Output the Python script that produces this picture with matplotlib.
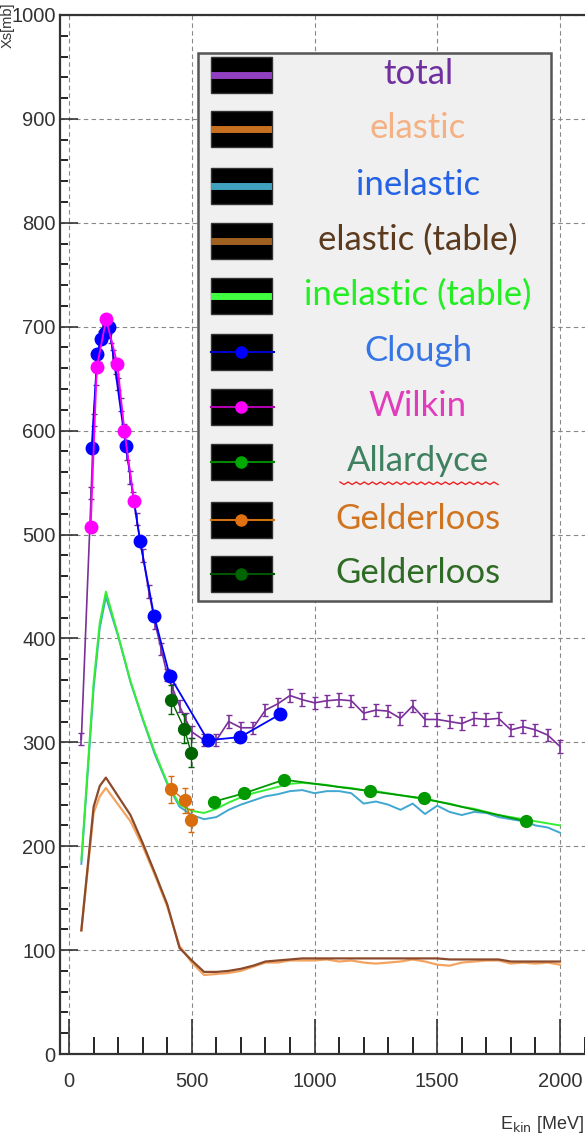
import numpy as np
import matplotlib.pyplot as plt
from matplotlib.patches import Rectangle
from matplotlib.ticker import MultipleLocator

# Data (E in MeV, cross sections in mb)
e_total = [50, 90, 100, 110, 120, 130, 140, 150, 160, 170, 180, 190, 200, 212, 225, 237,
           250, 262, 275, 300, 325, 350, 375, 400, 425, 450, 475, 500, 550, 600, 650, 700,
           750, 800, 850, 900, 950, 1000, 1050, 1100, 1150, 1200, 1250, 1300, 1350, 1400,
           1450, 1500, 1550, 1600, 1650, 1700, 1750, 1800, 1850, 1900, 1950, 2000]
xs_total = [303, 540, 610, 650, 672, 690, 700, 705, 700, 690, 672, 660, 645, 625, 600, 578,
            555, 535, 515, 480, 445, 415, 390, 365, 350, 335, 322, 310, 302, 302, 320, 314,
            314, 331, 337, 345, 341, 338, 340, 341, 340, 328, 331, 330, 323, 335,
            322, 322, 320, 318, 323, 322, 323, 312, 315, 312, 307, 296]

e_grid = [50, 100, 125, 150, 200, 250, 300, 350, 400, 450, 500, 550, 600, 650, 700, 750,
          800, 850, 900, 950, 1000, 1050, 1100, 1150, 1200, 1250, 1300, 1350, 1400, 1450,
          1500, 1550, 1600, 1650, 1700, 1750, 1800, 1850, 1900, 1950, 2000]
xs_inel = [183, 352, 410, 440, 402, 358, 322, 288, 260, 238, 230, 226, 228, 235, 240, 244,
           248, 250, 253, 254, 251, 253, 253, 251, 241, 243, 240, 235, 241, 231,
           239, 233, 230, 233, 232, 228, 226, 224, 220, 218, 213]
xs_inel_tab = [187, 358, 415, 445, 403, 359, 323, 290, 261, 240, 234, 232, 236, 242, 247, 251,
               254, 257, 260, 261, 260, 259, 257, 256, 254, 253, 251, 249, 247, 245,
               243, 241, 238, 236, 233, 230, 228, 226, 224, 222, 220]
xs_el = [119, 232, 248, 256, 240, 224, 200, 172, 142, 104, 88, 76, 77, 78, 80, 84,
         88, 88, 90, 90, 90, 91, 89, 90, 88, 87, 88, 89, 91, 89,
         86, 85, 88, 89, 90, 90, 87, 88, 87, 88, 86]
xs_el_tab = [119, 238, 258, 266, 248, 230, 203, 174, 144, 102, 90, 79, 79, 80, 82, 85,
             89, 90, 91, 92, 92, 92, 92, 92, 92, 92, 92, 92, 92, 92,
             92, 91, 91, 91, 91, 91, 89, 89, 89, 89, 89]

e_clough = [92, 115, 129, 147, 164, 231, 289, 346, 410, 565, 697, 860]
xs_clough = [583, 674, 688, 694, 700, 585, 494, 422, 364, 302, 305, 327]

e_wilkin = [88, 113, 151, 197, 225, 265]
xs_wilkin = [507, 661, 707, 664, 600, 532]

e_allardyce = [592, 714, 876, 1226, 1446, 1862]
xs_allardyce = [243, 251, 264, 253, 246, 224]

e_geld_or = [415, 472, 497]
xs_geld_or = [255, 244, 225]
err_geld_or = [13, 12, 11]

e_geld_gr = [415, 470, 497]
xs_geld_gr = [341, 313, 290]
err_geld_gr = [14, 14, 14]

legend_labels = ['total', 'elastic', 'inelastic', 'elastic (table)', 'inelastic (table)',
                 'Clough', 'Wilkin', 'Allardyce', 'Gelderloos', 'Gelderloos']
legend_text_colors = ['#7030a0', '#f4b183', '#2463e6', '#5b3a1e', '#22ee22',
                      '#3575e6', '#e03cbc', '#3f8060', '#d0741f', '#2e6b24']
legend_line_colors = ['#9040c0', '#c87020', '#40a0c0', '#a06020', '#40ff40',
                      '#0000cc', '#b000b0', '#008800', '#d07010', '#005500']
legend_markers = [None, None, None, None, None,
                  '#0000ff', '#ff00ff', '#00aa00', '#e07010', '#006400']

W, H = 585, 1138
fig = plt.figure(figsize=(W / 100, H / 100), dpi=100)
ax = fig.add_axes([60 / W, 84 / H, 1 - 60 / W, 1039 / H])

# curves
ax.plot(e_grid, xs_el, color='#f4a460', lw=1.6, zorder=2)
ax.plot(e_grid, xs_el_tab, color='#8b4a2b', lw=1.6, zorder=3)
ax.plot(e_grid, xs_inel, color='#40a8d0', lw=1.4, zorder=2)
ax.plot(e_grid, xs_inel_tab, color='#33ee33', lw=1.4, zorder=3)
ax.errorbar(e_total, xs_total, yerr=6, color='#7b2f9b', lw=1.2, elinewidth=1.2,
            capsize=2, zorder=4)

# data sets
ax.errorbar(e_clough, xs_clough, yerr=4, color='#0000ff', marker='o', ms=9,
            lw=1.3, capsize=0, zorder=6)
ax.errorbar(e_wilkin, xs_wilkin, yerr=4, color='#ff00ff', marker='o', ms=9,
            lw=1.3, capsize=0, zorder=7)
ax.errorbar(e_allardyce, xs_allardyce, yerr=3, color='#009900', marker='o', ms=8.5,
            lw=1.3, capsize=0, zorder=6)
ax.errorbar(e_geld_or, xs_geld_or, yerr=err_geld_or, color='#d96c0c', marker='o', ms=8.5,
            lw=1.0, capsize=2, zorder=6)
ax.errorbar(e_geld_gr, xs_geld_gr, yerr=err_geld_gr, color='#006400', marker='o', ms=8.5,
            lw=1.0, capsize=2, zorder=6)

ax.set_xlim(-37, 2102)
ax.set_ylim(0, 1000)
ax.xaxis.set_major_locator(MultipleLocator(500))
ax.xaxis.set_minor_locator(MultipleLocator(100))
ax.yaxis.set_major_locator(MultipleLocator(100))
ax.yaxis.set_minor_locator(MultipleLocator(20))
ax.tick_params(axis='x', which='major', direction='in', length=25, width=1.2, pad=13,
               labelsize=14.5, colors='#333333')
ax.tick_params(axis='x', which='minor', direction='in', length=12, width=1.2)
ax.tick_params(axis='y', which='major', direction='in', length=13, width=1.2, pad=3,
               labelsize=14.5, colors='#333333')
ax.tick_params(axis='y', which='minor', direction='in', length=6, width=1.2)
for lab in ax.get_xticklabels() + ax.get_yticklabels():
    lab.set_family('Liberation Sans')
ax.grid(True, which='major', ls=(0, (4, 3)), color='#888888', lw=0.8)
ax.spines['right'].set_visible(False)
for s in ['left', 'bottom', 'top']:
    ax.spines[s].set_linewidth(1.6)
    ax.spines[s].set_color('#333333')

fig.text(0.5 / W, 1 - 2 / H, 'Xs[mb]', rotation=90, ha='left', va='top', fontsize=10.5,
         family='Liberation Sans', color='#333333')
fig.text(1 - 1 / W, 3 / H, r'E$_{\mathrm{kin}}$ [MeV]', ha='right', va='bottom',
         fontsize=13, family='Liberation Sans', color='#333333')


# legend box, drawn in figure pixels
def fx(px):
    return px / W


def fy(py):
    return 1 - py / H


fig.patches.append(Rectangle((fx(198), fy(601)), fx(551) - fx(198), fy(53) - fy(601),
                             transform=fig.transFigure, facecolor='#f0f0f0',
                             edgecolor='#555555', lw=1.8, zorder=10))
row_y = [75, 129, 186, 241, 296, 352, 407, 462, 520, 574]
for i, lab in enumerate(legend_labels):
    yc = row_y[i]
    fig.patches.append(Rectangle((fx(211), fy(yc + 18)), fx(272) - fx(211), fy(yc - 18) - fy(yc + 18),
                                 transform=fig.transFigure, facecolor='black',
                                 edgecolor='#333333', lw=1, zorder=11))
    lw = 5 if legend_markers[i] is None else 1.5
    x0 = 214 if legend_markers[i] is None else 211
    x1 = 268 if legend_markers[i] is None else 274
    fig.lines.append(plt.Line2D([fx(x0), fx(x1)], [fy(yc), fy(yc)], transform=fig.transFigure,
                                color=legend_line_colors[i], lw=lw, zorder=12))
    if legend_markers[i] is not None:
        fig.lines.append(plt.Line2D([fx(241)], [fy(yc)], transform=fig.transFigure,
                                    marker='o', ms=8, color=legend_markers[i], zorder=13))
    fig.text(fx(418), fy(yc - 1), lab, ha='center', va='center', fontsize=25,
             family='Lato', color=legend_text_colors[i], zorder=14)

# red spell-check squiggle under "Allardyce"
sq_x = np.linspace(340, 498, 40)
sq_y = 482 + 2.5 * (np.arange(40) % 2)
fig.lines.append(plt.Line2D(fx(sq_x), fy(sq_y), transform=fig.transFigure,
                            color='#ee2222', lw=1.0, zorder=14))

fig.savefig('out.png', dpi=100)
